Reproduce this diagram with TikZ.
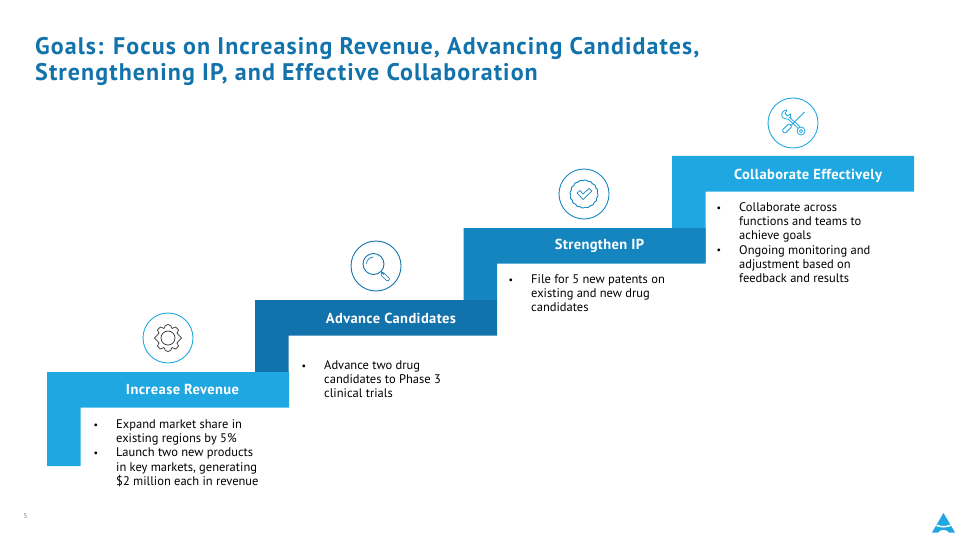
\documentclass[tikz,border=0pt]{standalone}
\usepackage{fontspec}
\setmainfont{PT Sans}
\definecolor{sky}{HTML}{1FA7E1}
\definecolor{navy}{HTML}{1272AB}
\definecolor{mid}{HTML}{1485BF}
\definecolor{inkgray}{HTML}{333333}
\tikzset{x=1pt,y=-1pt,
    goal head/.style={text=white,font=\bfseries\fontsize{14.5}{16}\selectfont\addfontfeature{LetterSpace=2.7},anchor=center},
    goal list/.style={anchor=north west,inner sep=0pt,font=\fontsize{12.5}{14.3}\selectfont,text=black},
    icon ring/.style={draw,circle,minimum size=50pt,inner sep=0pt,line width=.9pt},
    }
% one stair: left, top, colour
\newcommand{\stair}[4]{\fill[#4] (#1,#2) -- ++(242,0) -- ++(0,35.5) -- ++(-208.5,0) -- (#1+33.5,#3) -- (#1,#3) -- cycle;}
\newcommand{\goalrows}[1]{\begin{tabular}{@{}p{23pt}@{}l@{}}#1\end{tabular}}
\newcommand{\dotitem}{\hspace{.5pt}\raisebox{.2pt}{\scalebox{.8}{\textbullet}}}
\begin{document}
\begin{tikzpicture}
\useasboundingbox (0,0) rectangle (960,540);
\node[anchor=north west,inner sep=0pt,align=left,text=navy,font=\bfseries\fontsize{24}{26.5}\selectfont\addfontfeature{LetterSpace=4.5}] (title) at (35,37)
    {Goals: Focus on Increasing Revenue, Advancing Candidates,\\Strengthening IP, and Effective Collaboration};
% stairs, top one first
\stair{672}{156}{262}{sky}
\stair{463.5}{228}{300}{mid}
\stair{255}{300}{372}{navy}
\stair{47}{372}{466}{sky}
\node[goal head] (collab) at (808,176) {Collaborate Effectively};
\node[goal head] (ip) at (599.5,246) {Strengthen IP};
\node[goal head] (cand) at (391,318) {Advance Candidates};
\node[goal head] (rev) at (182.5,389) {Increase Revenue};
\node[goal list] (revlist) at (93,418) {\goalrows{\dotitem & Expand market share in\\ & existing regions by 5\%\\
    \dotitem & Launch two new products\\ & in key markets, generating\\ & \$2 million each in revenue}};
\node[goal list] (candlist) at (301,359) {\goalrows{\dotitem & Advance two drug\\ & candidates to Phase 3\\ & clinical trials}};
\node[goal list] (iplist) at (508,273) {\goalrows{\dotitem & File for 5 new patents on\\ & existing and new drug\\ & candidates}};
\node[goal list] (collablist) at (716,201) {\goalrows{\dotitem & Collaborate across\\ & functions and teams to\\ & achieve goals\\
    \dotitem & Ongoing monitoring and\\ & adjustment based on\\ & feedback and results}};
% icons
\node[icon ring,draw=sky] (gear) at (168,338) {};
\node[icon ring,draw=navy] (lens) at (376,266) {};
\node[icon ring,draw=mid] (check) at (584,194) {};
\node[icon ring,draw=sky] (tools) at (793,123) {};
\draw[inkgray,line width=.7pt,line join=round] plot[smooth cycle,tension=.25] coordinates {
    (168,324.5) (171,326) (172,328.5) (175.5,327) (178.5,330) (177,333) (179,335.5) (181.5,338) (179,340.5) (177,343) (178.5,346) (175.5,349) (172,347.5) (171,350) (168,351.5) (165,350) (164,347.5) (160.5,349) (157.5,346) (159,343) (157,340.5) (154.5,338) (157,335.5) (159,333) (157.5,330) (160.5,327) (164,328.5) (165,326)};
\draw[inkgray,line width=.7pt] (168,338) circle (7);
\draw[navy,line width=.9pt] (373.5,264) circle (10.5) (381,271.5) -- (384,274.5);
\draw[navy,line width=.7pt,rounded corners=1pt] (383,272) -- (390,279) -- (387.5,281.5) -- (380.5,274.5) -- cycle;
\draw[mid,line width=.7pt] (366.5,264) arc (180:270:7);
\draw[mid,line width=.9pt] plot[domain=0:360,samples=120,smooth] ({584+(13.7+.4*sin(16*\x))*cos(\x)},{194+(13.7+.4*sin(16*\x))*sin(\x)}) -- cycle;
\draw[mid,line width=.7pt,line join=round] (577,193) -- (580,190.5) -- (583,194) -- (589,188.5) -- (592,191) -- (583,199.5) -- cycle;
% wrench
\draw[sky,line width=.8pt,line join=round] (787,110) .. controls (783,110) and (781,113) .. (782,117) .. controls (784,119) and (786,119) .. (788,119) -- (798.5,128.5) (787,110.5) -- (785,113.5) -- (787.5,116) -- (790.5,114) .. controls (791,117) and (790,119) .. (789.5,117.5) -- (800,126.5);
\draw[sky,line width=.8pt] (801,131) circle (4) (801,131) circle (1.6);
% screwdriver
\draw[sky,line width=.8pt] (804.5,112) -- (791,125.5);
\draw[sky,line width=.8pt,rounded corners=1pt] (789,123.5) -- (782,130.5) -- (785,133.5) -- (792,126.5) -- cycle;
% page number and mark
\node[inner sep=0pt,text=gray,font=\fontsize{7}{8}\selectfont] (pageno) at (25.5,516) {5};
\fill[sky] (943.5,513) -- (955,532.5) -- (949,532.5) .. controls (947,529) and (940,529) .. (938,532.5) -- (932,532.5) -- cycle;
\fill[white] (937,524.5) .. controls (941,526.5) and (946,526.5) .. (950,524.5) -- (951,526) .. controls (946,528) and (941,528) .. (936,526) -- cycle;
\end{tikzpicture}
\end{document}
